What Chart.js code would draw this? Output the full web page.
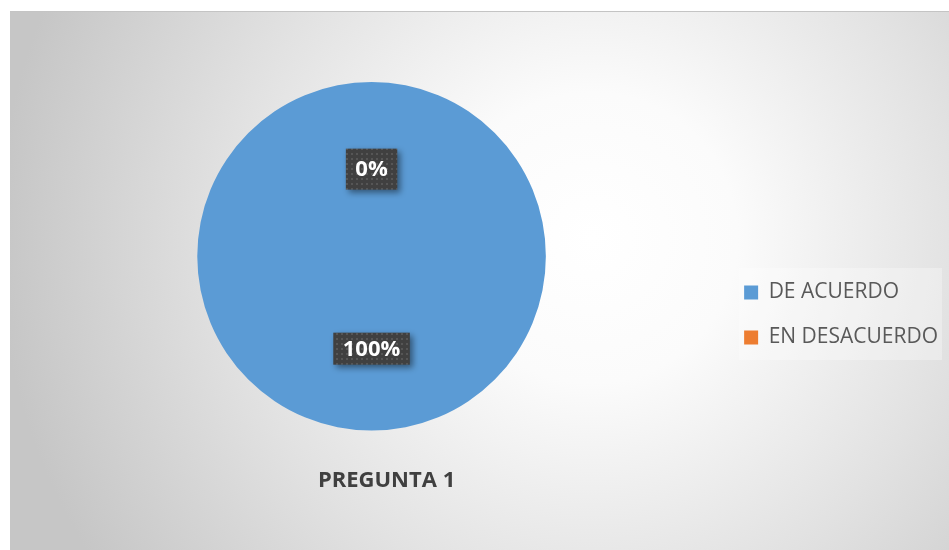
<!DOCTYPE html>
<html>
<head>
<meta charset="utf-8">
<script src="https://cdn.jsdelivr.net/npm/chart.js@4"></script>
<style>
  html, body { margin: 0; padding: 0; background: #ffffff; }
  #wrap {
    position: absolute; left: 10px; top: 11px; width: 939px; height: 539px;
    border-top: 1px solid #c4c4c4; box-sizing: border-box;
    background: radial-gradient(circle at 62% 42%, #ffffff 0%, #fbfbfb 22%, #e2e2e2 55%, #c6c6c6 90%);
  }
  canvas { display: block; }
</style>
</head>
<body>
<div id="wrap"><canvas id="pieChart" width="939" height="538"></canvas></div>
<script>
const categories = ['DE ACUERDO', 'EN DESACUERDO'];
const values = [100, 0];
const percentLabels = ['100%', '0%'];
const chartTitle = 'PREGUNTA 1';

const colors = ['#5B9BD5', '#ED7D31'];

// patrón punteado para las etiquetas
function makePattern(ctx) {
    const p = document.createElement('canvas');
    p.width = 5; p.height = 5;
    const pc = p.getContext('2d');
    pc.fillStyle = '#404040';
    pc.fillRect(0, 0, 5, 5);
    pc.fillStyle = '#565656';
    pc.fillRect(1, 1, 2, 2);
    return ctx.createPattern(p, 'repeat');
}

const dataLabels = {
    id: 'dataLabels',
    afterDatasetsDraw(chart) {
        const ctx = chart.ctx;
        const meta = chart.getDatasetMeta(0);
        const pattern = makePattern(ctx);
        meta.data.forEach((arc, i) => {
            const { x, y, startAngle, endAngle, outerRadius } = arc.getProps(['x', 'y', 'startAngle', 'endAngle', 'outerRadius'], true);
            const mid = (startAngle + endAngle) / 2;
            const r = outerRadius * (i === 1 ? 0.5 : 0.53);
            const cx = x + Math.cos(mid) * r;
            const cy = y + Math.sin(mid) * r;
            ctx.save();
            ctx.font = 'bold 22px "Open Sans", sans-serif';
            const txt = percentLabels[i];
            const w = ctx.measureText(txt).width + 19;
            const h = i === 1 ? 41 : 32;
            ctx.shadowColor = 'rgba(0,0,0,0.45)';
            ctx.shadowBlur = 6;
            ctx.shadowOffsetX = 3;
            ctx.shadowOffsetY = 3;
            ctx.fillStyle = pattern;
            ctx.fillRect(cx - w / 2, cy - h / 2, w, h);
            ctx.shadowColor = 'transparent';
            ctx.fillStyle = '#ffffff';
            ctx.textAlign = 'center';
            ctx.textBaseline = 'middle';
            ctx.fillText(txt, cx, cy + 1);
            ctx.restore();
        });
    }
};

const legendShift = 22;
const legendBg = {
    id: 'legendBg',
    beforeDraw(chart) {
        const l = chart.legend;
        const ctx = chart.ctx;
        const cy = (l.top + l.bottom) / 2;
        ctx.save();
        ctx.fillStyle = 'rgba(255,255,255,0.3)';
        ctx.fillRect(l.left + 19, cy - 47, l.right - l.left - 25, 92);
        ctx.restore();
    },
    afterLayout(chart) {
        // desplazar título y leyenda como en el original
        chart.titleBlock.left += 15;
        chart.titleBlock.right += 15;
        chart.legend.top += legendShift;
        chart.legend.bottom += legendShift;
    }
};

new Chart(document.getElementById('pieChart'), {
    type: 'pie',
    data: {
        labels: categories,
        datasets: [{
            data: values,
            backgroundColor: colors,
            borderWidth: 0
        }]
    },
    options: {
        responsive: false,
        animation: false,
        layout: { padding: { left: 13, top: 70, bottom: 46, right: 1 } },
        plugins: {
            legend: {
                position: 'right',
                labels: {
                    boxWidth: 14,
                    boxHeight: 14,
                    padding: 24,
                    color: '#595959',
                    font: { family: '"Open Sans", sans-serif', size: 21 }
                }
            },
            title: {
                display: true,
                position: 'bottom',
                fullSize: false,
                text: chartTitle,
                color: '#404040',
                font: { family: '"Open Sans", sans-serif', size: 22, weight: 'bold' },
                padding: { top: 37, bottom: 10 }
            },
            tooltip: { enabled: false }
        }
    },
    plugins: [legendBg, dataLabels]
});
</script>
</body>
</html>
